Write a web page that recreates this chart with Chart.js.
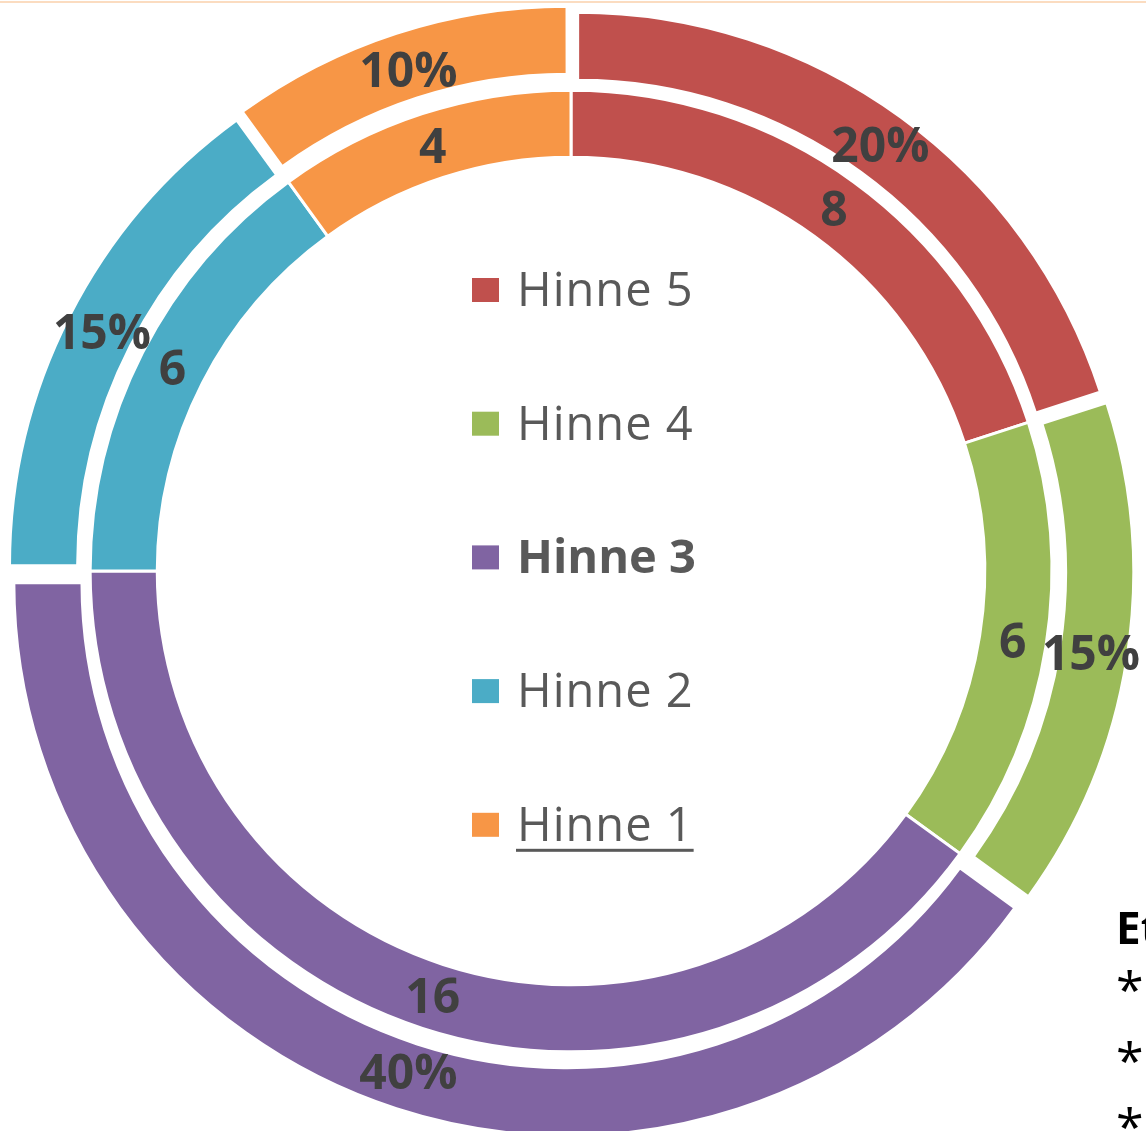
<!DOCTYPE html>
<html>
<head>
<meta charset="utf-8">
<script src="https://cdn.jsdelivr.net/npm/chart.js@4/dist/chart.umd.min.js"></script>
<style>
  html, body { margin: 0; padding: 0; background: #fff; overflow: hidden; }
  #wrap { position: relative; width: 1146px; height: 1131px; overflow: hidden; }
  #chart { position: absolute; left: 0; top: 0; }
  .topline { position: absolute; left: 0; top: 1px; width: 1146px; height: 2px; background: #fbdcc0; }
  .side { position: absolute; left: 1116px; font-family: "Open Sans", sans-serif; font-size: 44px;
          line-height: 44px; color: #000; white-space: nowrap; }
  .star { font-size: 50px; line-height: 50px; }
</style>
</head>
<body>
<div id="wrap">
  <canvas id="chart" width="1146" height="1131"></canvas>
  <div class="topline"></div>
  <div class="side" style="top:905px; font-weight:bold;">Et</div>
  <div class="side star" style="top:964px;">*</div>
  <div class="side star" style="top:1035px;">*</div>
  <div class="side star" style="top:1101px;">*</div>
</div>
<script>
// Data
const labels = ["Hinne 5", "Hinne 4", "Hinne 3", "Hinne 2", "Hinne 1"];
const counts = [8, 6, 16, 6, 4];          // inner ring
const percents = [20, 15, 40, 15, 10];    // outer ring (%)
const colors = ["#C0504D", "#9BBB59", "#8064A2", "#4BACC6", "#F79646"];

const labelFont = 'bold 48px "Open Sans", sans-serif';

// Draws value labels in the middle of each arc
const arcLabels = {
  id: "arcLabels",
  afterDatasetsDraw(chart) {
    const ctx = chart.ctx;
    ctx.save();
    ctx.font = labelFont;
    ctx.fillStyle = "#404040";
    ctx.textAlign = "center";
    ctx.textBaseline = "alphabetic";
    chart.data.datasets.forEach((ds, di) => {
      const meta = chart.getDatasetMeta(di);
      meta.data.forEach((arc, i) => {
        const mid = (arc.startAngle + arc.endAngle) / 2;
        // arc.draw() shifts the slice by offset / 4
        const r = (arc.innerRadius + arc.outerRadius) / 2 + (arc.options.offset || 0) / 4;
        const x = arc.x + Math.cos(mid) * r;
        const y = arc.y + Math.sin(mid) * r;
        const text = di === 0 ? ds.data[i] + "%" : String(ds.data[i]);
        ctx.fillText(text, x, y + 17);
      });
    });
    ctx.restore();
  },
};

// Legend in the hole of the doughnut
const centerLegend = {
  id: "centerLegend",
  afterDraw(chart) {
    const ctx = chart.ctx;
    const top = 290;
    const gap = 133.7;
    ctx.save();
    chart.data.labels.forEach((label, i) => {
      const cy = top + i * gap;
      ctx.fillStyle = colors[i];
      ctx.fillRect(472, cy - 12, 27, 24);
      const bold = i === 2;
      ctx.letterSpacing = bold ? "0px" : "1px";
      ctx.font = (bold ? "bold " : "") + '47px "Open Sans", sans-serif';
      ctx.fillStyle = "#595959";
      ctx.textAlign = "left";
      ctx.textBaseline = "alphabetic";
      ctx.fillText(label, 517, cy + 16);
      if (i === 4) {
        const w = ctx.measureText(label).width;
        ctx.fillRect(516, cy + 24, w + 1, 3);
      }
    });
    ctx.restore();
  },
};

const ctx = document.getElementById("chart").getContext("2d");

new Chart(ctx, {
  type: "doughnut",
  data: {
    labels: labels,
    datasets: [
      {
        data: percents,
        backgroundColor: colors,
        borderColor: "#ffffff",
        borderWidth: 2,
        offset: 48,
        hoverOffset: 0,
      },
      {
        data: counts,
        backgroundColor: colors,
        borderColor: "#ffffff",
        borderWidth: 3,
        hoverOffset: 0,
      },
    ],
  },
  options: {
    responsive: false,
    animation: false,
    devicePixelRatio: 1,
    radius: 548,
    cutout: "75.5%",
    layout: { padding: { left: 0, right: 4, top: 11, bottom: 0 } },
    events: [],
    plugins: {
      legend: { display: false },
      tooltip: { enabled: false },
    },
  },
  plugins: [arcLabels, centerLegend],
});
</script>
</body>
</html>
